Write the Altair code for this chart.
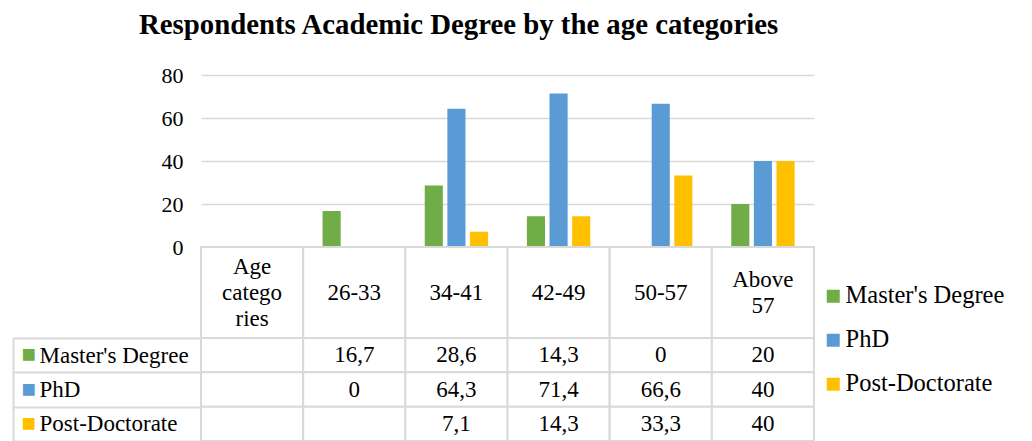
import altair as alt
import pandas as pd

FONT = "Liberation Serif"
GRID = "#d9d9d9"

title_text = "Respondents Academic Degree by the age categories"
categories = ["Age categories", "26-33", "34-41", "42-49", "50-57", "Above 57"]
header_labels = ["Age\ncatego\nries", "26-33", "34-41", "42-49", "50-57", "Above\n57"]
age_groups = ["26-33", "34-41", "42-49", "50-57", "Above 57"]
series = ["Master's Degree", "PhD", "Post-Doctorate"]
colors = ["#70ad47", "#5b9bd5", "#ffc000"]
masters = [16.7, 28.6, 14.3, 0, 20]
phd = [0, 64.3, 71.4, 66.6, 40]
postdoc = [None, 7.1, 14.3, 33.3, 40]
y_ticks = [0, 20, 40, 60, 80]


def fmt(v):
    if v is None:
        return ""
    if float(v).is_integer():
        return str(int(v))
    return str(v).replace(".", ",")


records = []
for s, vals in zip(series, [masters, phd, postdoc]):
    for a, v in zip(age_groups, vals):
        records.append({"age": a, "series": s, "value": v, "label": fmt(v)})
df = pd.DataFrame(records)
df_bars = df[df["value"].notna()].copy()

cell_records = []
for s in series:
    cell_records.append({"age": categories[0], "series": s, "label": ""})
cells = pd.concat([pd.DataFrame(cell_records), df[["age", "series", "label"]]], ignore_index=True)

hdr_df = pd.DataFrame({"age": categories, "text": header_labels, "row": ["h"] * len(categories)})
hdr_df["nlines"] = hdr_df["text"].str.count("\n") + 1

W = 613
LH = 26
TXT = 23

bars = alt.Chart(df_bars).mark_bar().encode(
    x=alt.X("age:N", scale=alt.Scale(domain=categories, paddingInner=0.38, paddingOuter=0.19), axis=None),
    xOffset=alt.XOffset("series:N", scale=alt.Scale(domain=series, paddingInner=0.2, paddingOuter=0)),
    y=alt.Y("value:Q", scale=alt.Scale(domain=[0, 80]),
            axis=alt.Axis(values=y_ticks, title=None, domain=False, ticks=False, labelPadding=18,
                          labelFontSize=22, labelFont=FONT, labelColor="black",
                          gridColor=GRID, gridWidth=1.5)),
    color=alt.Color("series:N", scale=alt.Scale(domain=series, range=colors),
                    legend=alt.Legend(title=None, orient="none", legendX=620, legendY=209,
                                      symbolType="square", symbolSize=169, symbolStrokeWidth=0,
                                      labelFont=FONT, labelFontSize=24.5, labelColor="black",
                                      labelOffset=0, rowPadding=19, padding=0, labelLimit=0)),
).properties(width=W, height=172)

x_table = alt.X("age:N", scale=alt.Scale(domain=categories, paddingInner=0, paddingOuter=0), axis=None)

hdr_base = alt.Chart(hdr_df).encode(
    x=x_table,
    y=alt.Y("row:N", axis=None, scale=alt.Scale(paddingInner=0, paddingOuter=0)),
)
hdr_layers = [hdr_base.mark_rect(fill="white", stroke=GRID, strokeWidth=2)]
for n in sorted(hdr_df["nlines"].unique()):
    hdr_layers.append(
        hdr_base.mark_text(font=FONT, fontSize=TXT, lineBreak="\n", lineHeight=LH,
                           baseline="middle", color="black", dy=-(int(n) - 1) * LH / 2)
        .encode(text="text:N")
        .transform_filter(alt.datum.nlines == int(n))
    )
header = alt.layer(*hdr_layers).properties(width=W, height=91)

row_scale = alt.Scale(domain=series, paddingInner=0, paddingOuter=0)
square_colors = {
    "condition": [
        {"test": "datum.value == 'PhD'", "value": colors[1]},
        {"test": "datum.value == 'Post-Doctorate'", "value": colors[2]},
    ],
    "value": colors[0],
}
rows_base = alt.Chart(cells).encode(x=x_table)
rows_rect = rows_base.mark_rect(fill="white", stroke=GRID, strokeWidth=2).encode(
    y=alt.Y("series:N", scale=row_scale,
            axis=alt.Axis(title=None, orient="left", offset=188, domain=True, domainColor=GRID,
                          domainWidth=2, ticks=False, tickSize=0, labelExpr="'■'", labelAlign="left",
                          labelPadding=-8, labelFontSize=24, labelFont=FONT, labelColor=square_colors,
                          labelBaseline="middle", labelOverlap=False))
)
rows_text = rows_base.mark_text(font=FONT, fontSize=TXT, baseline="middle", color="black").encode(
    y=alt.Y("series:N", scale=row_scale,
            axis=alt.Axis(title=None, orient="left", domain=False, ticks=True, tickSize=188,
                          tickBand="extent", tickColor=GRID, tickWidth=2, labelAlign="left",
                          labelPadding=-26, labelFontSize=TXT, labelFont=FONT, labelColor="black",
                          labelLimit=0, labelBaseline="middle", labelOverlap=False)),
    text="label:N",
)
rows = alt.layer(rows_rect, rows_text).resolve_scale(y="independent").resolve_axis(y="independent").properties(
    width=W, height=103)

chart = alt.vconcat(bars, header, rows, spacing=0, bounds="flush").properties(
    title=alt.TitleParams(title_text, font=FONT, fontSize=28.8, fontWeight="bold", color="black",
                          anchor="start", dx=127, offset=24),
    padding={"left": 12, "top": 11, "right": 5, "bottom": 0},
    background="white",
).configure_view(stroke=None)

chart.save("out.html", embed_options={"renderer": "svg", "actions": False})
